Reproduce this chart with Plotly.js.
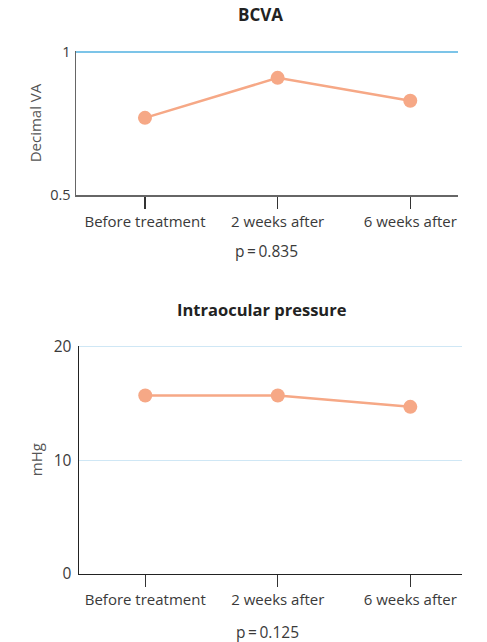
<!DOCTYPE html>
<html>
<head>
<meta charset="utf-8">
<script src="https://cdn.plot.ly/plotly-3.0.1.min.js"></script>
<style>html,body{margin:0;padding:0;background:#fff;}#chart{width:487px;height:642px;}</style>
</head>
<body>
<div id="chart"></div>
<script>
var categories = ["Before treatment", "2 weeks after", "6 weeks after"];
var bcvaValues = [0.77, 0.91, 0.83];
var iopValues = [15.7, 15.7, 14.7];
var bcvaTicks = [0.5, 1];
var bcvaTickLabels = ["0.5", "1"];
var iopTicks = [0, 10, 20];
var iopTickLabels = ["0", "10", "20"];
var titles = ["BCVA", "Intraocular pressure"];
var yTitles = ["Decimal VA", "mHg"];
var pValues = ["p\u2009=\u20090.835", "p\u2009=\u20090.125"];

var W = 487, H = 642;
var FONT = "'Open Sans', Lato, sans-serif";
var salmon = "#f6a886";

function fx(px){return px/W;}
function fy(px){return 1 - px/H;}

var traces = [
  {x: categories, y: bcvaValues, xaxis: "x", yaxis: "y", type: "scatter", mode: "lines+markers",
   line: {color: salmon, width: 2.5}, marker: {color: salmon, size: 14}, cliponaxis: false, hoverinfo: "none"},
  {x: categories, y: iopValues, xaxis: "x2", yaxis: "y2", type: "scatter", mode: "lines+markers",
   line: {color: salmon, width: 2.5}, marker: {color: salmon, size: 14}, cliponaxis: false, hoverinfo: "none"}
];

var tickFont = {family: FONT, size: 15, color: "#3a3a3a"};

var layout = {
  width: W, height: H,
  margin: {l: 0, r: 0, t: 0, b: 0},
  paper_bgcolor: "#fff", plot_bgcolor: "#fff",
  showlegend: false,
  font: {family: FONT},
  xaxis: {domain: [fx(76), fx(458)], anchor: "y", type: "category", range: [-0.52, 2.36],
    showline: true, linecolor: "#666", linewidth: 1.5, showgrid: false, zeroline: false,
    ticks: "outside", ticklen: 12, tickwidth: 1.2, tickcolor: "#333", tickfont: tickFont, ticklabelstandoff: 0},
  yaxis: {domain: [fy(195), fy(51)], anchor: "x", range: [0.5, 1.004], tickvals: bcvaTicks, ticktext: bcvaTickLabels,
    showline: true, linecolor: "#666", linewidth: 1.5, showgrid: true, gridcolor: "#7cc4e8", gridwidth: 1.3,
    zeroline: false, ticks: "", tickfont: {family: FONT, size: 14.5, color: "#3a3a3a"}, ticklabelstandoff: 1,
    title: {text: yTitles[0], font: {family: FONT, size: 15, color: "#555"}, standoff: 5}},
  xaxis2: {domain: [fx(79), fx(462)], anchor: "y2", type: "category", range: [-0.5, 2.39],
    showline: true, linecolor: "#222", linewidth: 1.5, showgrid: false, zeroline: false,
    ticks: "outside", ticklen: 12, tickwidth: 1.2, tickcolor: "#333", tickfont: tickFont, ticklabelstandoff: 0},
  yaxis2: {domain: [fy(573.7), fy(345.7)], anchor: "x2", range: [0, 20.09], tickvals: iopTicks, ticktext: iopTickLabels,
    showline: true, linecolor: "#222", linewidth: 1.5, showgrid: true, gridcolor: "#cfe7f5", gridwidth: 1.3,
    zeroline: false, ticks: "", tickfont: {family: FONT, size: 15.5, color: "#3a3a3a"}, ticklabelstandoff: 3,
    title: {text: yTitles[1], font: {family: FONT, size: 15, color: "#555"}, standoff: 7}},
  annotations: [
    {text: "<b>" + titles[0] + "</b>", xref: "paper", yref: "paper", x: fx(260), y: fy(14), showarrow: false,
     font: {family: FONT, size: 17, color: "#222"}, xanchor: "center", yanchor: "middle"},
    {text: "<b>" + titles[1] + "</b>", xref: "paper", yref: "paper", x: fx(262), y: fy(309), showarrow: false,
     font: {family: FONT, size: 16.5, color: "#222"}, xanchor: "center", yanchor: "middle"},
    {text: pValues[0], xref: "paper", yref: "paper", x: fx(266), y: fy(251), showarrow: false,
     font: {family: FONT, size: 15.5, color: "#3a3a3a"}, xanchor: "center", yanchor: "middle"},
    {text: pValues[1], xref: "paper", yref: "paper", x: fx(267), y: fy(632), showarrow: false,
     font: {family: FONT, size: 15.5, color: "#3a3a3a"}, xanchor: "center", yanchor: "middle"}
  ]
};

Plotly.newPlot("chart", traces, layout, {staticPlot: true, displayModeBar: false});
</script>
</body>
</html>
